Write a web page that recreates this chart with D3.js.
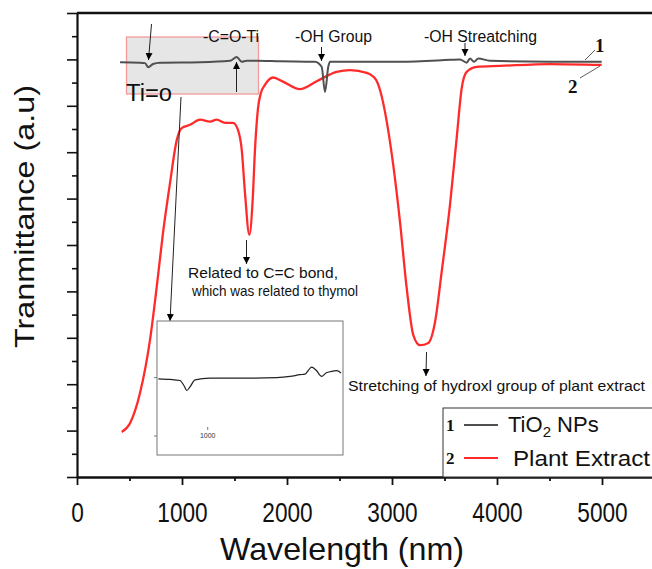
<!DOCTYPE html>
<html>
<head>
<meta charset="utf-8">
<script src="https://cdn.jsdelivr.net/npm/d3@7"></script>
<style>
  body { margin: 0; background: #fff; }
  svg { display: block; font-family: Arial, "Liberation Sans", sans-serif; }
</style>
</head>
<body>
<div id="viz"></div>
<script>
// curve 1: TiO2 NPs
const tio2Wavelength = [410, 600, 648, 679, 724, 790, 1171, 1457, 1521, 1569, 1616, 1711, 1933, 2267, 2330, 2362, 2393, 2410, 3076, 3552, 3648, 3711, 3743, 3781, 3822, 3933, 4505, 4997];
const tio2Trans      = [89.4, 89.3, 89.2, 88.3, 89.0, 89.3, 89.4, 89.7, 90.5, 89.5, 89.7, 89.7, 89.6, 89.5, 88.4, 83.0, 88.4, 89.5, 89.5, 89.9, 90.0, 89.3, 90.2, 89.5, 90.2, 89.7, 89.5, 89.5];

// curve 2: plant extract
const plantWavelength = [426, 505, 600, 695, 759, 819, 886, 950, 997, 1076, 1171, 1267, 1330, 1410, 1486, 1533, 1569, 1600, 1641, 1673, 1695, 1724, 1752, 1790, 1867, 1962, 2124, 2283, 2473, 2600, 2759, 2848, 2886, 2950, 3012, 3076, 3140, 3203, 3267, 3346, 3410, 3473, 3552, 3616, 3664, 3711, 3807, 4029, 4505, 4997];
const plantTrans      = [9.7, 11.6, 18.1, 29.5, 40.9, 52.6, 63.4, 72.6, 75.2, 75.9, 77.0, 76.6, 77.0, 76.3, 76.3, 74.8, 70.5, 61.2, 52.2, 59.7, 70.5, 79.5, 82.8, 84.5, 86.1, 85.2, 83.6, 85.3, 87.3, 87.7, 87.1, 85.6, 83.4, 76.6, 67.2, 55.0, 40.7, 30.6, 28.4, 28.9, 33.4, 44.2, 58.6, 73.1, 83.8, 87.3, 88.4, 88.6, 89.0, 88.8];

// inset (zoom of curve 1)
const insetWavelength = [708, 777, 836, 860, 876, 895, 925, 1013, 1191, 1408, 1487, 1546, 1575, 1615, 1640, 1674, 1699, 1723, 1763, 1788];
const insetSignal     = [1.98, 1.97, 1.95, 1.86, 1.78, 1.84, 1.96, 1.99, 1.99, 2.0, 2.02, 2.05, 2.06, 2.18, 2.13, 2.02, 2.08, 2.10, 2.12, 2.08];

const xTicks = [0, 500, 1000, 1500, 2000, 2500, 3000, 3500, 4000, 4500, 5000, 5500];
const yTicks = d3.range(0, 101, 5);
const legendLabels = ["TiO2 NPs", "Plant Extract"];

const width = 652, height = 569;
const svg = d3.select("#viz").append("svg")
  .attr("width", width)
  .attr("height", height);

const defs = svg.append("defs");
defs.append("marker")
  .attr("id", "head")
  .attr("viewBox", "0 -5 10 10")
  .attr("refX", 10)
  .attr("refY", 0)
  .attr("markerWidth", 7)
  .attr("markerHeight", 9)
  .attr("markerUnits", "userSpaceOnUse")
  .attr("orient", "auto")
  .append("path")
  .attr("d", "M0,-5 L10,0 L0,5 Z")
  .attr("fill", "#000");

const x = d3.scaleLinear().domain([0, 5500]).range([77, 654.5]);
const y = d3.scaleLinear().domain([0, 100]).range([477, 13]);

// top frame
svg.append("line")
  .attr("x1", 77).attr("x2", 654).attr("y1", 13).attr("y2", 13)
  .attr("stroke", "#111").attr("stroke-width", 2.5);

// x axis
const xAxis = svg.append("g")
  .attr("transform", "translate(0,477)")
  .call(d3.axisBottom(x).tickValues(xTicks)
    .tickFormat(d => (d % 1000 === 0 && d <= 5000) ? d : "")
    .tickSizeOuter(0));
xAxis.select(".domain").attr("stroke", "#111").attr("stroke-width", 2.5);
xAxis.selectAll(".tick line")
  .attr("stroke", "#111").attr("stroke-width", 1.8)
  .attr("y2", d => d % 1000 === 0 ? 8 : 4);
xAxis.selectAll(".tick text")
  .attr("font-size", 27)
  .attr("fill", "#111")
  .attr("y", 45)
  .attr("dy", 0)
  .attr("transform", "scale(0.84,1)");

// y axis
const yAxis = svg.append("g")
  .attr("transform", "translate(77,0)")
  .call(d3.axisLeft(y).tickValues(yTicks).tickFormat("").tickSizeOuter(0));
yAxis.select(".domain").attr("stroke", "#111").attr("stroke-width", 2.2);
yAxis.selectAll(".tick line")
  .attr("stroke", "#111").attr("stroke-width", 1.6)
  .attr("x2", d => d % 10 === 0 ? -10 : -5);

// axis titles
svg.append("text")
  .attr("x", 220).attr("y", 560)
  .attr("font-size", 32)
  .attr("fill", "#111")
  .attr("textLength", 244)
  .attr("lengthAdjust", "spacingAndGlyphs")
  .text("Wavelength (nm)");

svg.append("text")
  .attr("transform", "translate(34,348) rotate(-90)")
  .attr("font-size", 27)
  .attr("fill", "#111")
  .attr("textLength", 263)
  .attr("lengthAdjust", "spacingAndGlyphs")
  .text("Tranmittance (a.u)");

// shaded zoom region
svg.append("rect")
  .attr("x", 126.5).attr("y", 37)
  .attr("width", 132).attr("height", 57)
  .attr("fill", "#e6e6e6")
  .attr("stroke", "#f59a9a").attr("stroke-width", 1.3);

const line = d3.line()
  .x(d => x(d[0]))
  .y(d => y(d[1]))
  .curve(d3.curveMonotoneX);

svg.append("path")
  .datum(plantWavelength.map((w, i) => [w, plantTrans[i]]))
  .attr("d", line)
  .attr("fill", "none")
  .attr("stroke", "#ff2b2b")
  .attr("stroke-width", 2.3);

svg.append("path")
  .datum(tio2Wavelength.map((w, i) => [w, tio2Trans[i]]))
  .attr("d", line)
  .attr("fill", "none")
  .attr("stroke", "#505050")
  .attr("stroke-width", 2);

// annotations
function arrow(x1, y1, x2, y2) {
  svg.append("line")
    .attr("x1", x1).attr("y1", y1).attr("x2", x2).attr("y2", y2)
    .attr("stroke", "#222").attr("stroke-width", 1)
    .attr("marker-end", "url(#head)");
}
function label(txt, x0, y0, size, len) {
  const t = svg.append("text")
    .attr("x", x0).attr("y", y0)
    .attr("font-size", size)
    .attr("fill", "#111")
    .text(txt);
  if (len) t.attr("textLength", len).attr("lengthAdjust", "spacingAndGlyphs");
  return t;
}

arrow(151.5, 24, 148.5, 60);
arrow(236.5, 92, 236.5, 62);
arrow(321.5, 47, 321.5, 61);
arrow(465, 43, 465, 56);
arrow(181, 97, 170, 321);
arrow(246.5, 240, 246.5, 264);
arrow(426.5, 352, 426, 376);

label("-C=O-Ti", 203, 42, 16, 56);
label("-OH Group", 295, 42, 16, 77);
label("-OH Streatching", 424, 42, 16, 113);
label("Ti=o", 126, 101, 23, 46);
label("Related to C=C bond,", 188, 278, 15, 150);
label("which was related to thymol", 192, 296, 15, 166);
label("Stretching of hydroxl group of plant extract", 348, 391, 15, 297);

// curve numbers
svg.append("line").attr("x1", 595).attr("y1", 50).attr("x2", 585).attr("y2", 60)
  .attr("stroke", "#333").attr("stroke-width", 0.8);
svg.append("line").attr("x1", 580).attr("y1", 78).attr("x2", 600).attr("y2", 66)
  .attr("stroke", "#333").attr("stroke-width", 0.8);
svg.append("text").attr("x", 595).attr("y", 52)
  .attr("font-family", "'Liberation Serif', 'DejaVu Serif', serif")
  .attr("font-weight", "bold").attr("font-size", 19).attr("fill", "#111").text("1");
svg.append("text").attr("x", 568).attr("y", 93)
  .attr("font-family", "'Liberation Serif', 'DejaVu Serif', serif")
  .attr("font-weight", "bold").attr("font-size", 19).attr("fill", "#111").text("2");

// inset
const ix = d3.scaleLinear().domain([700, 1800]).range([157, 343]);
const iy = d3.scaleLinear().domain([0.674, 2.97]).range([455, 321]);
const inset = svg.append("g");
inset.append("rect")
  .attr("x", 157).attr("y", 321).attr("width", 186).attr("height", 134)
  .attr("fill", "#fff").attr("stroke", "#777").attr("stroke-width", 1);
inset.selectAll(".ity").data([1, 2]).enter().append("line")
  .attr("x1", 154).attr("x2", 157)
  .attr("y1", d => iy(d)).attr("y2", d => iy(d))
  .attr("stroke", "#777");
inset.append("line")
  .attr("x1", ix(1000)).attr("x2", ix(1000)).attr("y1", 427).attr("y2", 430)
  .attr("stroke", "#777");
inset.append("text")
  .attr("x", ix(1000)).attr("y", 438)
  .attr("text-anchor", "middle").attr("font-size", 7).attr("fill", "#333")
  .text("1000");
inset.append("path")
  .datum(insetWavelength.map((w, i) => [w, insetSignal[i]]))
  .attr("d", d3.line().x(d => ix(d[0])).y(d => iy(d[1])).curve(d3.curveMonotoneX))
  .attr("fill", "none").attr("stroke", "#222").attr("stroke-width", 1.2);

// legend
const legend = svg.append("g");
legend.append("rect")
  .attr("x", 443).attr("y", 408).attr("width", 220).attr("height", 69)
  .attr("fill", "#fff").attr("stroke", "#333").attr("stroke-width", 1);
const legColors = ["#505050", "#ff2b2b"];
legendLabels.forEach((lab, i) => {
  const yy = 425 + i * 33;
  legend.append("text").attr("x", 446).attr("y", yy + 6)
    .attr("font-family", "'Liberation Serif', 'DejaVu Serif', serif")
    .attr("font-weight", "bold").attr("font-size", 17).attr("fill", "#111")
    .text(i + 1);
  legend.append("line").attr("x1", 464).attr("x2", 498)
    .attr("y1", yy).attr("y2", yy)
    .attr("stroke", legColors[i]).attr("stroke-width", 2);
});
const t1 = legend.append("text").attr("x", 508).attr("y", 432)
  .attr("font-size", 22).attr("fill", "#111");
t1.append("tspan").text("TiO");
t1.append("tspan").attr("font-size", 15).attr("dy", 5).text("2");
t1.append("tspan").attr("dy", -5).text(" NPs");
legend.append("text").attr("x", 513).attr("y", 466)
  .attr("font-size", 22).attr("fill", "#111")
  .attr("textLength", 137).attr("lengthAdjust", "spacingAndGlyphs")
  .text("Plant Extract");
</script>
</body>
</html>
